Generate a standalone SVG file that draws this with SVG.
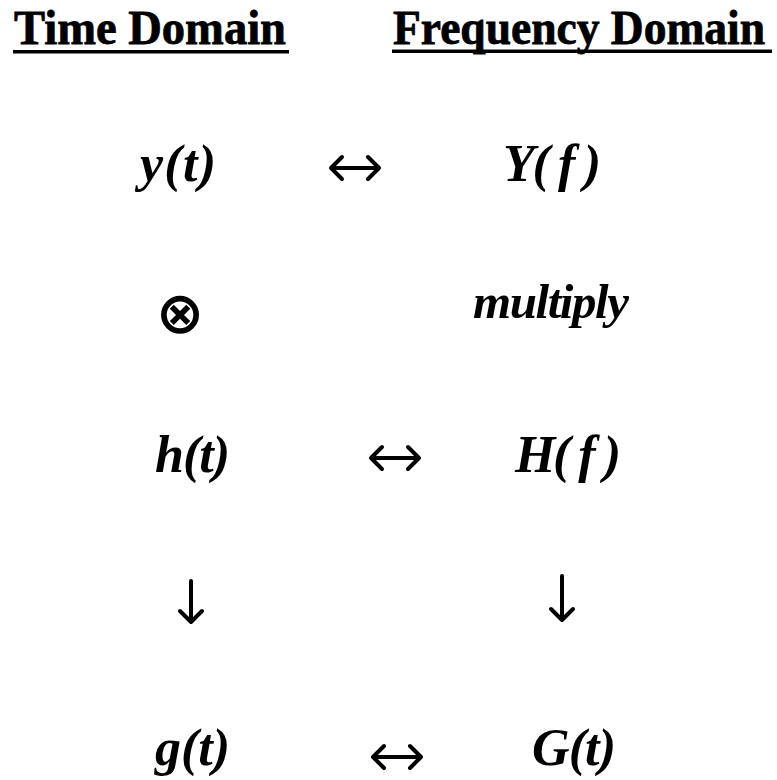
<svg xmlns="http://www.w3.org/2000/svg" width="777" height="780" viewBox="0 0 777 780">
<style>
.t{font-family:"Liberation Serif","Times New Roman",serif;font-weight:bold;font-size:48px;fill:#000;stroke:#000;stroke-width:0.8}
.m{font-family:"Liberation Serif","Times New Roman",serif;font-weight:bold;font-style:italic;font-size:52px;fill:#000}
.w{font-family:"Liberation Serif","Times New Roman",serif;font-weight:bold;font-style:italic;font-size:49px;fill:#000}
.a{fill:none;stroke:#000;stroke-width:4;stroke-linecap:round;stroke-linejoin:round}
</style>
<rect width="777" height="780" fill="#fff"/>
<g id="title-time">
<text class="t" x="14" y="44" textLength="272" lengthAdjust="spacingAndGlyphs">Time Domain</text>
<rect x="13" y="50" width="276" height="3.5" fill="#000"/>
</g>
<g id="title-freq">
<text class="t" x="393" y="44" textLength="372" lengthAdjust="spacingAndGlyphs">Frequency Domain</text>
<rect x="392" y="49.5" width="380" height="3.5" fill="#000"/>
</g>
<g id="yt"><text class="m" x="140" y="181" textLength="76" lengthAdjust="spacing">y(t)</text></g>
<g id="Yf"><text class="m" x="503" y="181" textLength="98" lengthAdjust="spacing">Y( f )</text></g>
<g id="conv"><text x="180" y="333" text-anchor="middle" style="font-family:'DejaVu Sans',sans-serif;font-weight:bold;font-size:58px">⊗</text></g>
<g id="multiply"><text class="w" x="473" y="318" textLength="156" lengthAdjust="spacing">multiply</text></g>
<g id="ht"><text class="m" x="155" y="472" textLength="75" lengthAdjust="spacing">h(t)</text></g>
<g id="Hf"><text class="m" x="515" y="472" textLength="106" lengthAdjust="spacing">H( f )</text></g>
<g id="gt"><text class="m" x="155" y="765" textLength="75" lengthAdjust="spacing">g(t)</text></g>
<g id="Gt"><text class="m" x="532" y="765" textLength="84" lengthAdjust="spacing">G(t)</text></g>
<g id="connectors">
<path class="a" d="M331 168H379M342 157L331 168L342 179M368 157L379 168L368 179"/>
<path class="a" d="M371 458H419M382 447L371 458L382 469M408 447L419 458L408 469"/>
<path class="a" d="M373 757H421M384 746L373 757L384 768M410 746L421 757L410 768"/>
<path class="a" d="M191 581V621M180 611L191 622L202 611"/>
<path class="a" d="M562 576V619M551 609L562 620L573 609"/>
</g>
</svg>
